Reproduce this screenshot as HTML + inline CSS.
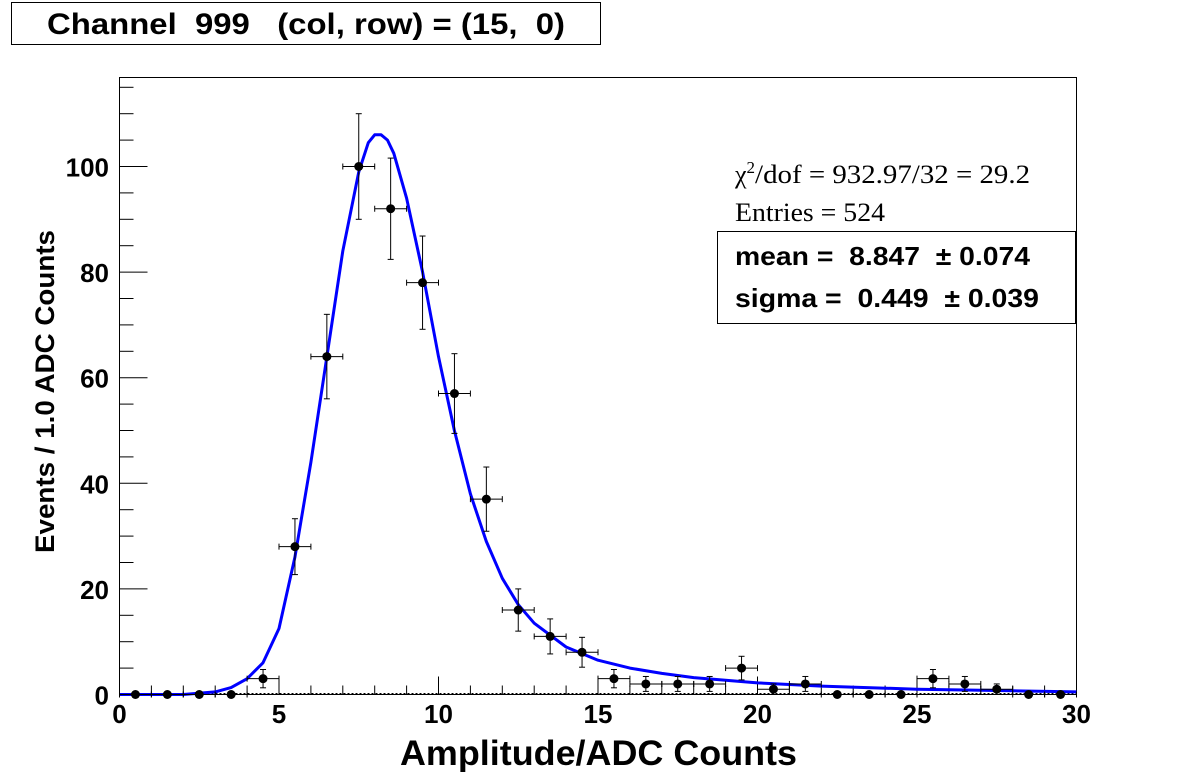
<!DOCTYPE html>
<html><head><meta charset="utf-8"><style>
body{margin:0;background:#fff;width:1196px;height:772px;overflow:hidden;font-family:"Liberation Sans",sans-serif}
</style></head><body>
<svg width="1196" height="772" xmlns="http://www.w3.org/2000/svg">
<rect x="0" y="0" width="1196" height="772" fill="#fff"/>
<g>
<rect x="11.5" y="2.5" width="589" height="42" fill="#fff" stroke="#000"/>
<text x="47" y="34" font-size="30" font-weight="bold" textLength="518" lengthAdjust="spacingAndGlyphs" font-family="Liberation Sans" xml:space="preserve">Channel  999   (col, row) = (15,  0)</text>
</g>
<rect x="119.5" y="77.5" width="957" height="617" fill="none" stroke="#000"/>
<g id="axes"></g>
<g id="marks"></g>
<text x="400" y="765" font-size="35" font-weight="bold" textLength="397" lengthAdjust="spacingAndGlyphs">Amplitude/ADC Counts</text>
<text transform="translate(54,553) rotate(-90)" font-size="27" font-weight="bold" textLength="323" lengthAdjust="spacingAndGlyphs">Events / 1.0 ADC Counts</text>
<g font-family="Liberation Serif">
<text x="735" y="183" font-size="26">χ<tspan font-size="17" dy="-10">2</tspan><tspan dy="10" textLength="275" lengthAdjust="spacingAndGlyphs">/dof = 932.97/32 = 29.2</tspan></text>
<text x="735" y="221" font-size="26" textLength="150" lengthAdjust="spacingAndGlyphs">Entries = 524</text>
</g>
<g>
<rect x="717.5" y="231.5" width="358" height="92" fill="#fff" stroke="#000"/>
<text x="735" y="265" font-size="26" font-weight="bold" textLength="295" lengthAdjust="spacingAndGlyphs" xml:space="preserve">mean =  8.847  ± 0.074</text>
<text x="735" y="307" font-size="26" font-weight="bold" textLength="304" lengthAdjust="spacingAndGlyphs" xml:space="preserve">sigma =  0.449  ± 0.039</text>
</g>
</svg>
<script>
const binCenters=[0.5,1.5,2.5,3.5,4.5,5.5,6.5,7.5,8.5,9.5,10.5,11.5,12.5,13.5,14.5,15.5,16.5,17.5,18.5,19.5,20.5,21.5,22.5,23.5,24.5,25.5,26.5,27.5,28.5,29.5];
const counts=[0,0,0,0,3,28,64,100,92,78,57,37,16,11,8,3,2,2,2,5,1,2,0,0,0,3,2,1,0,0];
const fitX=[0,2,3,3.5,4,4.5,5,5.5,6,6.5,7,7.5,7.8,8,8.2,8.4,8.6,9,9.5,10,10.5,11,11.5,12,12.5,13,14,15,16,17,18,20,22,25,28,30];
const fitY=[0,0,0.5,1.3,3,6,12.5,26,44,64,84,99,104.5,106,106,105,102.5,94,80,64,50,38,29,22,17,13.5,9,6.5,5,4,3.2,2.2,1.6,1,0.7,0.5];
const xTicks=[0,5,10,15,20,25,30];
const yTicks=[0,20,40,60,80,100];
const NS="http://www.w3.org/2000/svg";
const X=v=>119.5+v*(957/30);
const Y=v=>694.5-v*5.28;
function mk(t,a,p){const e=document.createElementNS(NS,t);for(const k in a)e.setAttribute(k,a[k]);p.appendChild(e);return e;}
const ax=document.getElementById('axes'),mg=document.getElementById('marks');
for(let i=0;i<=30;i++){const big=i%5===0;const l=mk('line',{x1:X(i),x2:X(i),y1:694.5,y2:694.5-(big?18:9),stroke:'#000'},ax);

}
xTicks.forEach(v=>{const t=mk('text',{x:X(v),y:723,'font-size':26,'font-weight':'bold','text-anchor':'middle'},ax);t.textContent=v;

});
for(let v=0;v<=115;v+=5){const big=v%20===0;const l=mk('line',{x1:119.5,x2:119.5+(big?28:14),y1:Y(v),y2:Y(v),stroke:'#000'},ax);

}
yTicks.forEach(v=>{const t=mk('text',{x:109,y:Y(v)+10,'font-size':26,'font-weight':'bold','text-anchor':'end'},ax);t.textContent=v;

});
const base=mk('line',{x1:119.5,x2:1076.5,y1:693.5,y2:693.5,stroke:'#000','stroke-dasharray':'2,2'},mg);


let d='';fitX.forEach((x,i)=>{d+=(i?'L':'M')+X(x).toFixed(1)+','+Y(fitY[i]).toFixed(1);});
const fp=mk('path',{d:d,fill:'none',stroke:'#0000ff','stroke-width':3,'stroke-linejoin':'round'},mg);


binCenters.forEach((c,i)=>{const n=counts[i],e=Math.sqrt(n);
const g=mk('g',{},mg);


mk('line',{x1:X(c-0.5),x2:X(c+0.5),y1:Y(n),y2:Y(n),stroke:'#000'},g);
if(n>0){mk('line',{x1:X(c),x2:X(c),y1:Y(n+e),y2:Y(n-e),stroke:'#000'},g);
mk('line',{x1:X(c)-3,x2:X(c)+3,y1:Y(n+e),y2:Y(n+e),stroke:'#000'},g);
mk('line',{x1:X(c)-3,x2:X(c)+3,y1:Y(n-e),y2:Y(n-e),stroke:'#000'},g);}
mk('line',{x1:X(c-0.5),x2:X(c-0.5),y1:Y(n)-3,y2:Y(n)+3,stroke:'#000'},g);
mk('line',{x1:X(c+0.5),x2:X(c+0.5),y1:Y(n)-3,y2:Y(n)+3,stroke:'#000'},g);
mk('circle',{cx:X(c),cy:Y(n),r:4.5,fill:'#000'},g);});
</script>
</body></html>
